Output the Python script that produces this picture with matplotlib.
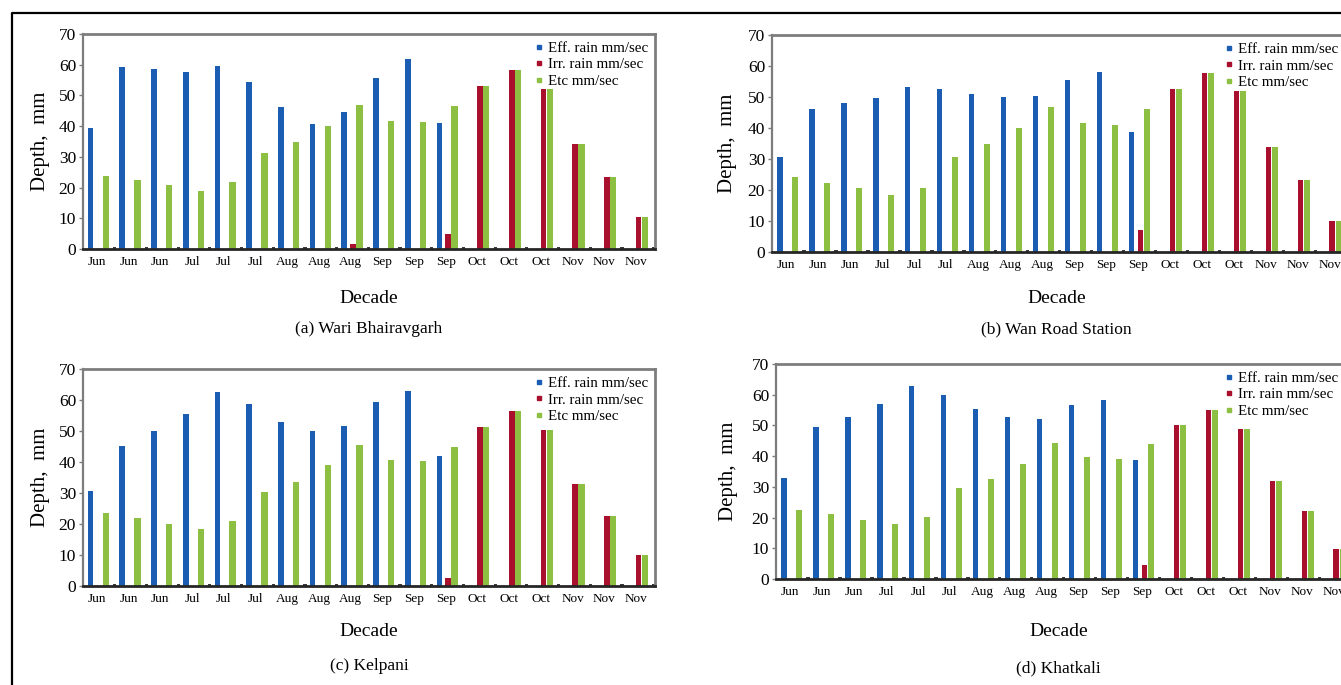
import numpy as np
import matplotlib.pyplot as plt
from matplotlib.lines import Line2D


decades = ["Jun", "Jun", "Jun", "Jul", "Jul", "Jul", "Aug", "Aug", "Aug",
           "Sep", "Sep", "Sep", "Oct", "Oct", "Oct", "Nov", "Nov", "Nov"]
depth_ticks = [0, 10, 20, 30, 40, 50, 60, 70]

# (a) Wari Bhairavgarh
wari_eff = [39.5, 59.3, 58.5, 57.7, 59.6, 54.5, 46.2, 40.6, 44.7, 55.8, 62.0, 41.1,
            0, 0, 0, 0, 0, 0]
wari_irr = [0, 0, 0, 0, 0, 0, 0, 0, 1.7, 0, 0, 4.9,
            53.1, 58.2, 52.0, 34.3, 23.4, 10.3]
wari_etc = [23.9, 22.6, 20.8, 19.0, 21.8, 31.1, 34.8, 40.0, 46.8, 41.7, 41.5, 46.6,
            53.1, 58.2, 52.0, 34.3, 23.4, 10.3]

# (b) Wan Road Station
wan_eff = [30.6, 46.2, 48.0, 49.6, 53.2, 52.6, 50.9, 50.1, 50.2, 55.5, 58.2, 38.6,
           0, 0, 0, 0, 0, 0]
wan_irr = [0, 0, 0, 0, 0, 0, 0, 0, 0, 0, 0, 7.0,
           52.6, 57.9, 51.8, 33.8, 23.1, 10.1]
wan_etc = [24.1, 22.2, 20.6, 18.5, 20.5, 30.5, 34.7, 40.1, 46.9, 41.6, 40.9, 46.1,
           52.6, 57.9, 51.8, 33.8, 23.1, 10.1]

# (c) Kelpani
kelpani_eff = [30.5, 45.2, 50.1, 55.6, 62.5, 58.8, 53.0, 50.1, 51.6, 59.2, 63.0, 42.0,
               0, 0, 0, 0, 0, 0]
kelpani_irr = [0, 0, 0, 0, 0, 0, 0, 0, 0, 0, 0, 2.7,
               51.2, 56.3, 50.2, 32.8, 22.5, 9.9]
kelpani_etc = [23.4, 22.0, 20.1, 18.3, 20.9, 30.2, 33.5, 39.1, 45.5, 40.8, 40.2, 44.9,
               51.2, 56.3, 50.2, 32.8, 22.5, 9.9]

# (d) Khatkali
khatkali_eff = [32.9, 49.6, 52.8, 57.0, 62.9, 59.8, 55.3, 52.7, 52.2, 56.6, 58.2, 38.7,
                0, 0, 0, 0, 0, 0]
khatkali_irr = [0, 0, 0, 0, 0, 0, 0, 0, 0, 0, 0, 4.6,
                50.3, 54.9, 48.9, 32.0, 22.1, 9.7]
khatkali_etc = [22.6, 21.3, 19.3, 17.8, 20.2, 29.5, 32.7, 37.6, 44.2, 39.6, 39.1, 43.8,
                50.3, 54.9, 48.9, 32.0, 22.1, 9.7]

# tiny dark stubs sitting on the baseline after every group
base_marks = [0.7, 0.7, 0.7, 0.7, 0.7, 0.7, 0.7, 0.7, 0.7,
              0.7, 0.7, 0.7, 0.7, 0.7, 0.7, 0.7, 0.7, 0.7]

labels = ["Eff. rain mm/sec", "Irr. rain mm/sec", "Etc mm/sec"]

BLUE = "#1b5db3"
RED = "#a8102e"
GREEN = "#8cbf42"
FRAME = "#7d7d7d"

W, H = 1341, 685
plt.rcParams["font.family"] = ["Liberation Serif", "DejaVu Serif"]

fig = plt.figure(figsize=(W / 100, H / 100), dpi=100)

# axes box (left, top, right, bottom) in pixels, legend right edge,
# y-label x, "Decade" y, caption y
panels = [
    ((83, 34, 655, 249), 650, 40, 298, 329, "(a) Wari Bhairavgarh",
     wari_eff, wari_irr, wari_etc),
    ((772, 35, 1349, 252), 1340, 727, 298, 329, "(b) Wan Road Station",
     wan_eff, wan_irr, wan_etc),
    ((83, 369, 655, 586), 650, 40, 631, 666, "(c) Kelpani",
     kelpani_eff, kelpani_irr, kelpani_etc),
    ((776, 364, 1353, 579), 1340, 728, 632, 668, "(d) Khatkali",
     khatkali_eff, khatkali_irr, khatkali_etc),
]

x = np.arange(len(decades))

for (l, t, r, b), leg_r, ylab_x, dec_y, cap_y, caption, eff, irr, etc in panels:
    ax = fig.add_axes([l / W, 1 - b / H, (r - l) / W, (b - t) / H])

    ax.bar(x - 0.20, eff, width=0.18, color=BLUE, zorder=2)
    ax.bar(x + 0.08, irr, width=0.18, color=RED, zorder=2)
    ax.bar(x + 0.28, etc, width=0.20, color=GREEN, zorder=2)
    ax.bar(x + 0.56, base_marks, width=0.10, color="#3a3a3a", zorder=2)

    ax.set_xlim(-0.44, 17.6)
    ax.set_ylim(0, 70)
    ax.set_yticks(depth_ticks)
    ax.set_xticks(x)
    ax.set_xticklabels(decades, fontsize=9.5)
    ax.tick_params(axis="x", length=0, pad=5)
    ax.tick_params(axis="y", length=3, width=1, color=FRAME, pad=2, labelsize=12.5)

    for side in ["top", "right", "left"]:
        ax.spines[side].set_color(FRAME)
        ax.spines[side].set_linewidth(2.0)
    ax.spines["left"].set_linewidth(1.6)
    ax.spines["bottom"].set_color("#262626")
    ax.spines["bottom"].set_linewidth(2.0)
    ax.spines["bottom"].set_zorder(3)

    handles = [Line2D([], [], ls="none", marker="s", markersize=3.5,
                      color=c) for c in (BLUE, RED, GREEN)]
    ax.legend(handles, labels, loc="upper right", frameon=False, fontsize=10.8,
              handlelength=0.6, handletextpad=0.35, labelspacing=0.2,
              borderaxespad=0, borderpad=0.1,
              bbox_to_anchor=(leg_r / W, 1 - (t + 6) / H),
              bbox_transform=fig.transFigure)

    fig.text(ylab_x / W, 1 - (t + b) / 2 / H, "Depth,  mm", rotation=90,
             ha="center", va="center", fontsize=15)
    fig.text((l + min(r, W)) / 2 / W, 1 - dec_y / H, "Decade",
             ha="center", va="center", fontsize=14)
    fig.text((l + min(r, W)) / 2 / W, 1 - cap_y / H, caption,
             ha="center", va="center", fontsize=12.5)

# outer frame of the figure (left and top edges visible)
fx = 11.5 / W
fy = 1 - 12.5 / H
fig.add_artist(Line2D([fx, fx, 1.0], [0.0, fy, fy], transform=fig.transFigure,
                      color="black", lw=1.6))

fig.savefig("out.png", dpi=100)
